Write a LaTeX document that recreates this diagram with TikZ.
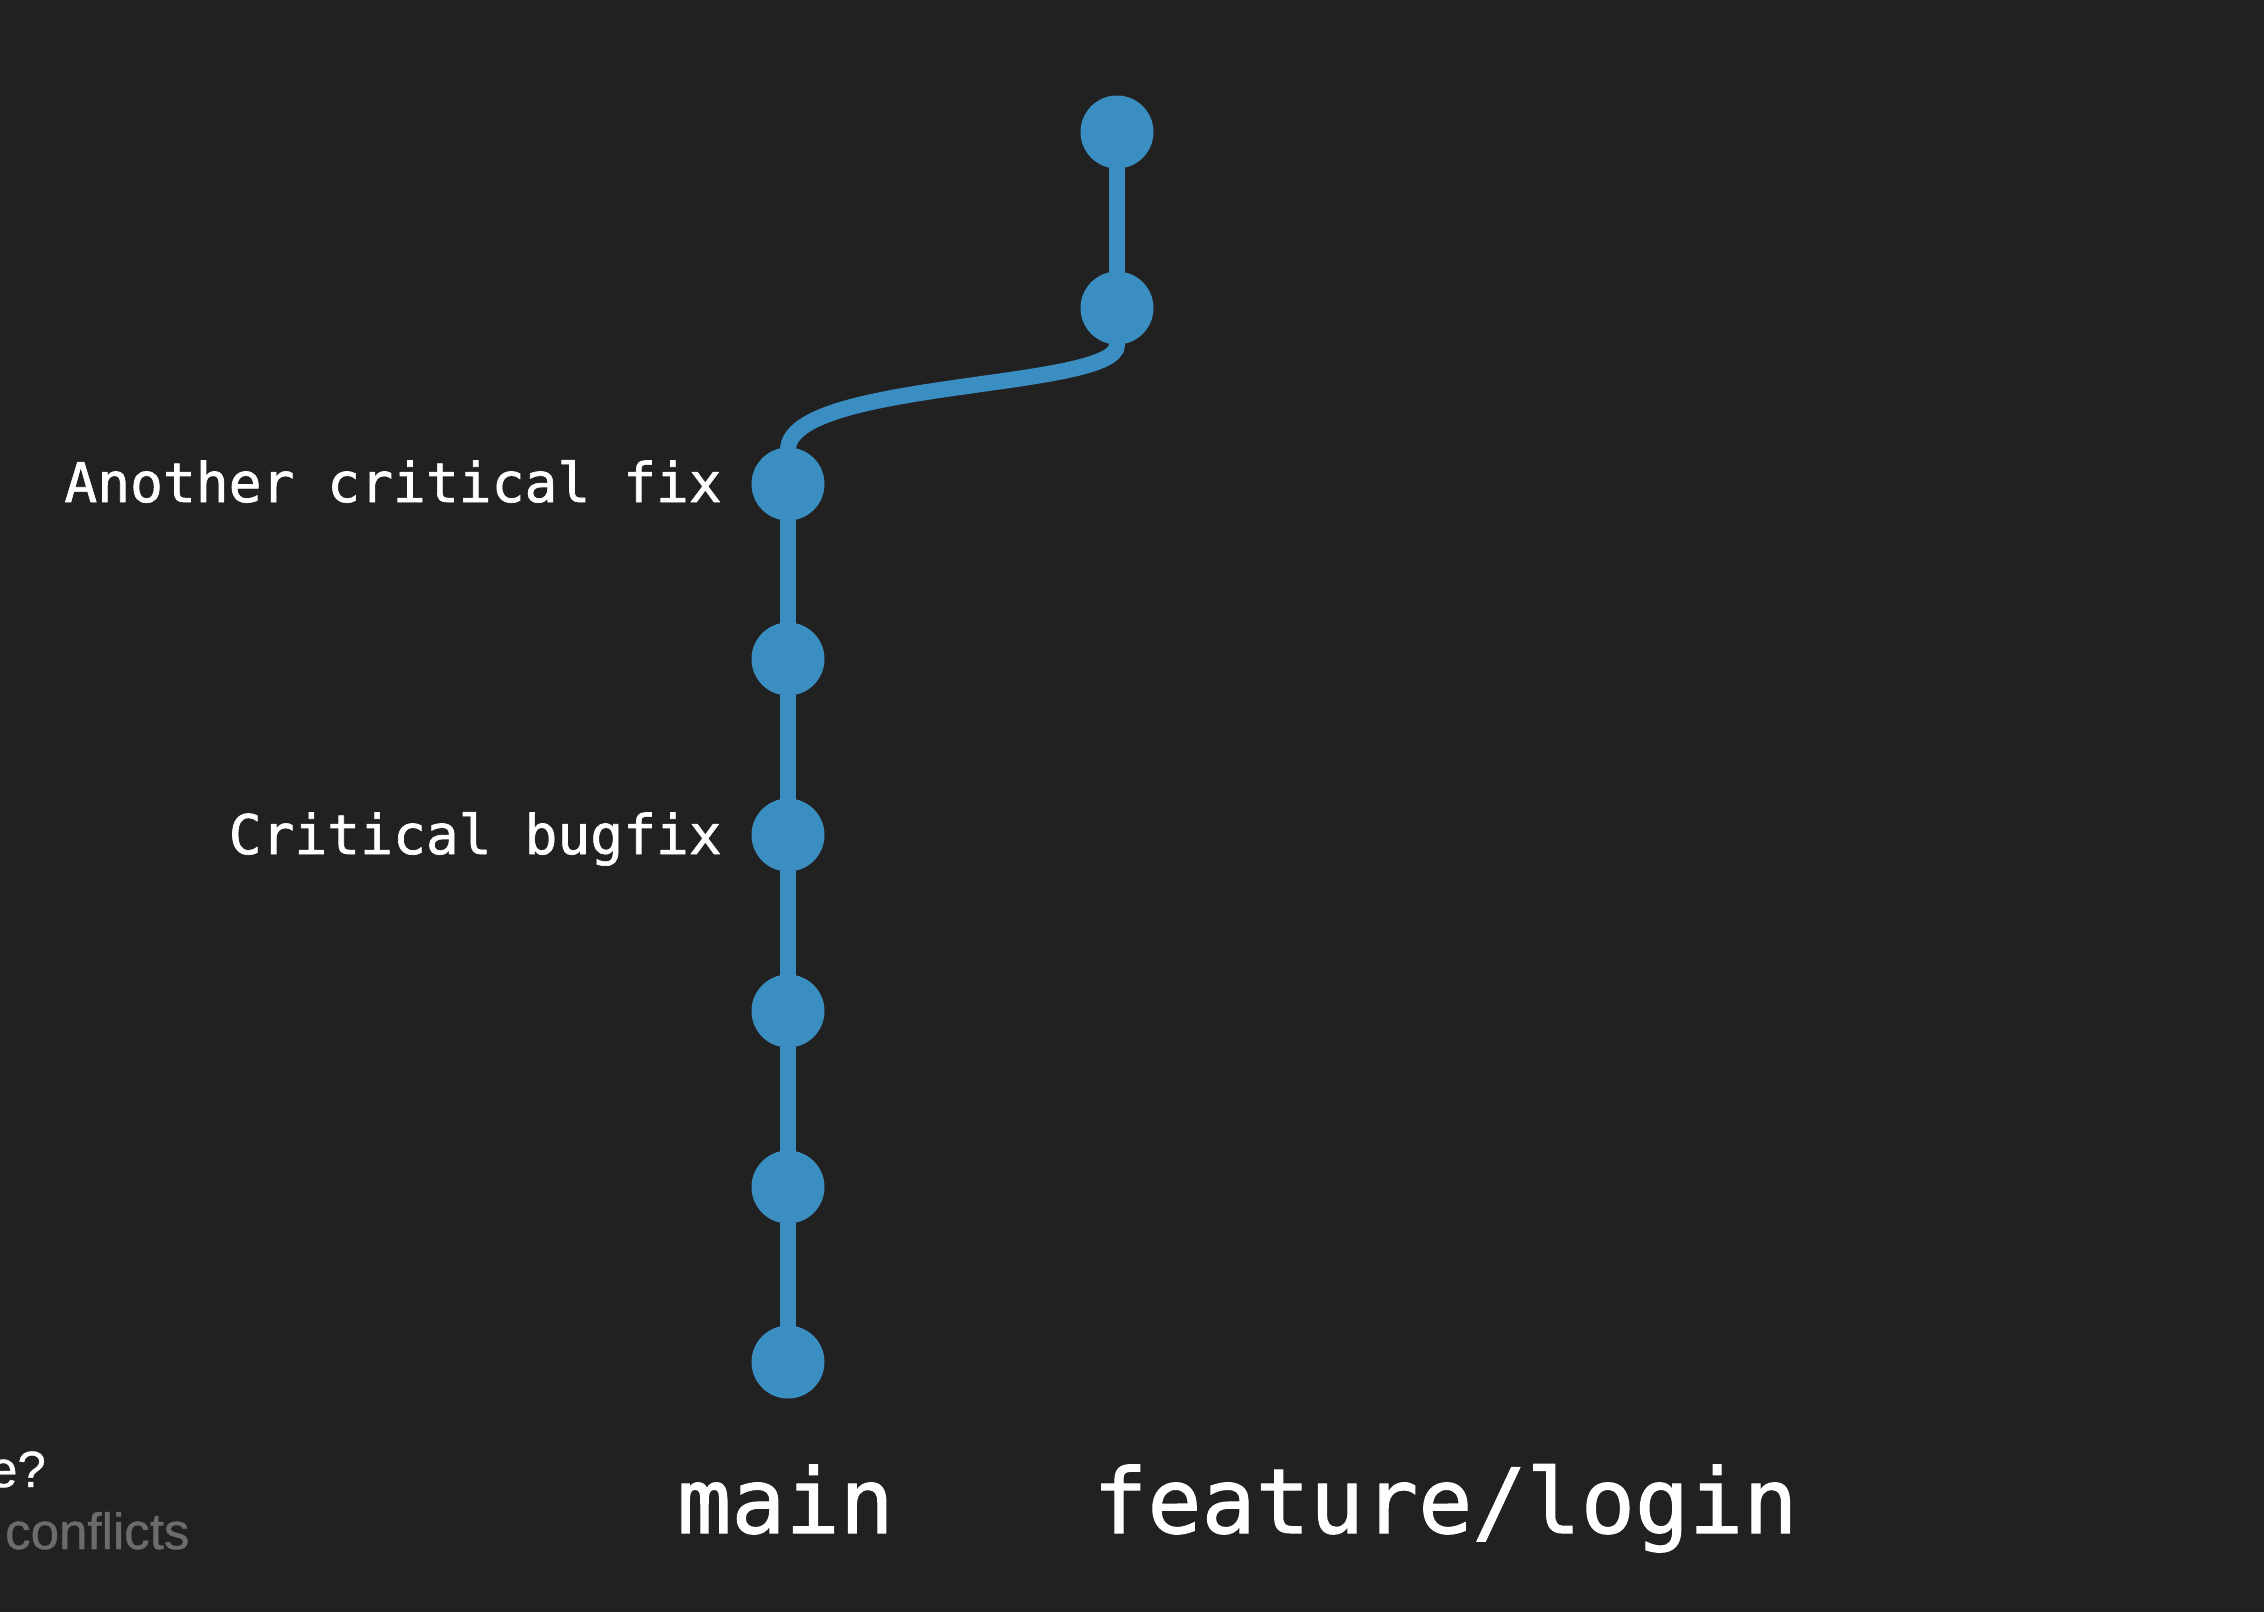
\documentclass[tikz,border=0pt]{standalone}
\usepackage{fontspec}
\setmainfont{Liberation Sans}
\setmonofont{DejaVu Sans Mono}
\newfontfamily\monoheavy[FakeBold=1.2]{DejaVu Sans Mono}
\newfontfamily\sidefont[FakeBold=0.8]{Liberation Sans}
\definecolor{bg}{HTML}{212121}
\definecolor{gitblue}{HTML}{3B8EC1}
\definecolor{dimgrey}{HTML}{6C6C6C}
\begin{document}
\begin{tikzpicture}[x=1pt,y=-1pt,
  commit/.style={circle,fill=gitblue,minimum size=73pt,inner sep=0pt},
  branchline/.style={draw=gitblue,line width=16pt},
  msg/.style={anchor=base east,text=white,font=\fontsize{54.6}{60}\selectfont\monoheavy,inner sep=0pt},
  bname/.style={anchor=base west,text=white,font=\fontsize{90}{100}\selectfont\monoheavy,inner sep=0pt},
  side/.style={anchor=base west,font=\fontsize{51}{56}\selectfont\sidefont,inner sep=0pt}]
\fill[bg] (0,0) rectangle (2264,1612);
\useasboundingbox (0,0) rectangle (2264,1612);
% main branch commits
\foreach \i/\y in {0/484,1/659,2/835,3/1011,4/1187,5/1362}{
  \coordinate (m\i) at (788,\y);
}
\coordinate (f0) at (1117,132);
\coordinate (f1) at (1117,308);
% lines
\draw[branchline] (m0) -- (m5);
\draw[branchline] (f0) -- (f1);
\draw[branchline] (f1) -- (1117,345) .. controls (1117,390) and (788,380) .. (788,450) -- (m0);
% commit dots
\foreach \i in {0,...,5}{ \node[commit] (c\i) at (m\i) {}; }
\node[commit] (fc0) at (f0) {};
\node[commit] (fc1) at (f1) {};
% messages
\node[msg] (t0) at (722,502) {Another critical fix};
\node[msg] (t2) at (722,854) {Critical bugfix};
% branch names
\node[bname] (main) at (677,1533) {main};
\node[bname] (feat) at (1093,1533) {feature/login};
% side texts cut off at left
\node[side,text=white,anchor=base east] (q) at (46,1487) {e?};
\node[side,text=dimgrey] (cf) at (5,1549) {conflicts};
\end{tikzpicture}
\end{document}
